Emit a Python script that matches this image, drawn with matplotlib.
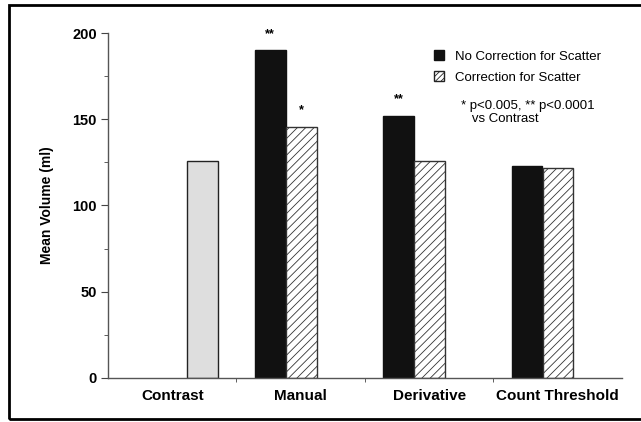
import matplotlib
matplotlib.use("Agg")
import matplotlib.pyplot as plt
from matplotlib.patches import Patch, Rectangle

plt.rcParams['font.family'] = ['Liberation Sans', 'DejaVu Sans']
plt.rcParams['hatch.linewidth'] = 0.6

categories = ['Contrast', 'Manual', 'Derivative', 'Count Threshold']
contrast_value = 126
no_correction = [190, 152, 123]      # Manual, Derivative, Count Threshold
with_correction = [145.5, 126, 121.5]
marks_no_corr = ['**', '**', '']
marks_corr = ['*', '', '']

fig = plt.figure(figsize=(6.41, 4.22), dpi=100)
ax = fig.add_axes([0.1685, 0.1043, 0.8015, 0.8175])

# outer frame around the whole figure
fig.patches.append(Rectangle((9 / 641, 3 / 422), 1.0, 414 / 422, transform=fig.transFigure,
                             fill=False, edgecolor='black', linewidth=2.0))

w = 0.24
ax.bar(0.735, contrast_value, width=w, color='#dedede', edgecolor='#222222', linewidth=1.0)

for i in range(3):
    xb = i + 1 + 0.262
    xh = i + 1 + 0.504
    ax.bar(xb, no_correction[i], width=w, color='#111111', edgecolor='#111111', linewidth=1.0)
    ax.bar(xh, with_correction[i], width=w, color='white', edgecolor='#333333',
           hatch='////', linewidth=1.0)
    if marks_no_corr[i]:
        ax.text(xb, no_correction[i] + 6, marks_no_corr[i], ha='center', va='bottom',
                fontsize=9, fontweight='bold', clip_on=False)
    if marks_corr[i]:
        ax.text(xh, with_correction[i] + 6, marks_corr[i], ha='center', va='bottom',
                fontsize=9, fontweight='bold', clip_on=False)

ax.set_xlim(0, 4)
ax.set_ylim(0, 200)
ax.set_xticks([k + 0.5 for k in range(4)])
ax.set_xticklabels(categories, fontsize=11, fontweight='bold')
ax.set_xticks([1, 2, 3], minor=True)
ax.tick_params(axis='x', which='major', length=0, pad=8)
ax.tick_params(axis='x', which='minor', length=3, color='#444444')
ax.set_yticks([0, 50, 100, 150, 200])
ax.set_yticks([25, 75, 125, 175], minor=True)
ax.tick_params(axis='y', which='major', length=5, labelsize=10.5, color='#444444', pad=3)
ax.tick_params(axis='y', which='minor', length=3, color='#444444')
for lbl in ax.get_yticklabels():
    lbl.set_fontweight('bold')

for s in ['top', 'right']:
    ax.spines[s].set_visible(False)
for s in ['left', 'bottom']:
    ax.spines[s].set_color('#555555')
    ax.spines[s].set_linewidth(1.0)

ax.set_ylabel('Mean Volume (ml)', fontsize=10, fontweight='bold', labelpad=13)

handles = [Patch(facecolor='#111111', edgecolor='#111111'),
           Patch(facecolor='white', edgecolor='#222222', hatch='//////')]
fig.legend(handles, ['No Correction for Scatter', 'Correction for Scatter'],
           loc='upper left', bbox_to_anchor=(429 / 641, 1 - 45 / 422), frameon=False,
           fontsize=9.5, handlelength=0.75, handleheight=0.75, handletextpad=0.8,
           labelspacing=0.65, borderaxespad=0)

fig.text(461 / 641, 1 - 100 / 422, '* p<0.005, ** p<0.0001\n   vs Contrast',
         fontsize=9.5, va='top', ha='left', linespacing=1.1)

fig.savefig('out.png', dpi=100)
